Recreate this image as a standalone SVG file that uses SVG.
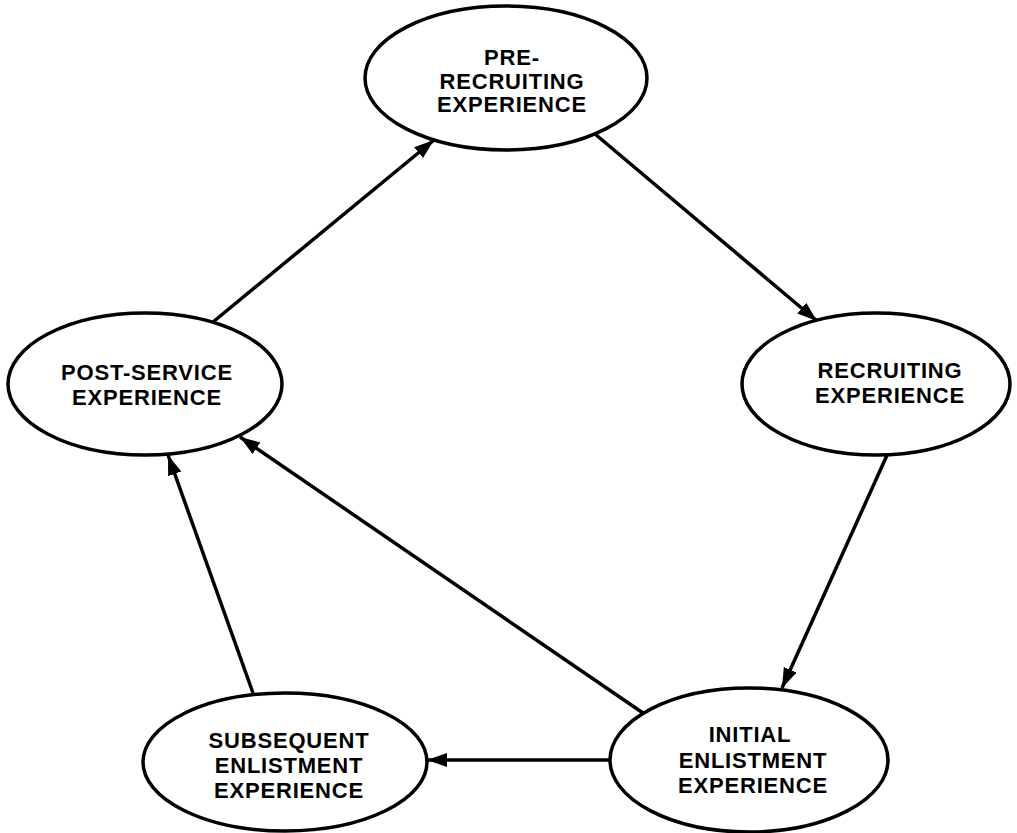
<svg xmlns="http://www.w3.org/2000/svg" width="1017" height="833" viewBox="0 0 1017 833">
<defs>
<marker id="ah" markerUnits="userSpaceOnUse" markerWidth="22" markerHeight="16" refX="20" refY="7" orient="auto">
<path d="M0,0 L20,7 L0,14 Z" fill="#000"/>
</marker>
<style>
.n{fill:#fff;stroke:#000;stroke-width:3.5}
.t{font-family:"Liberation Sans",Arial,sans-serif;font-weight:bold;font-size:22px;letter-spacing:0.8px;text-anchor:middle;fill:#000}
.c{stroke:#000;stroke-width:3.5;fill:none;marker-end:url(#ah)}
</style>
</defs>
<rect width="1017" height="833" fill="#fff"/>
<g id="connectors">
<line class="c" x1="213" y1="322" x2="434" y2="140"/>
<line class="c" x1="595" y1="134" x2="817" y2="321"/>
<line class="c" x1="888" y1="453" x2="782" y2="688"/>
<line class="c" x1="643" y1="713" x2="240" y2="437"/>
<line class="c" x1="610" y1="760" x2="427" y2="760"/>
<line class="c" x1="253" y1="693" x2="168" y2="455"/>
</g>
<g id="pre-recruiting">
<ellipse class="n" cx="506" cy="78" rx="141" ry="72"/>
<text class="t" x="512" y="65">PRE-</text>
<text class="t" x="512" y="89">RECRUITING</text>
<text class="t" x="512" y="112">EXPERIENCE</text>
</g>
<g id="recruiting">
<ellipse class="n" cx="876" cy="384" rx="134" ry="71"/>
<text class="t" x="890" y="378">RECRUITING</text>
<text class="t" x="890" y="403">EXPERIENCE</text>
</g>
<g id="post-service">
<ellipse class="n" cx="145" cy="384" rx="137" ry="71"/>
<text class="t" x="147" y="380">POST-SERVICE</text>
<text class="t" x="147" y="405">EXPERIENCE</text>
</g>
<g id="subsequent">
<ellipse class="n" cx="285" cy="762" rx="142" ry="69"/>
<text class="t" x="289" y="748">SUBSEQUENT</text>
<text class="t" x="289" y="773">ENLISTMENT</text>
<text class="t" x="289" y="798">EXPERIENCE</text>
</g>
<g id="initial">
<ellipse class="n" cx="749" cy="760" rx="139" ry="72"/>
<text class="t" x="750" y="742">INITIAL</text>
<text class="t" x="753" y="768">ENLISTMENT</text>
<text class="t" x="753" y="793">EXPERIENCE</text>
</g>
</svg>
